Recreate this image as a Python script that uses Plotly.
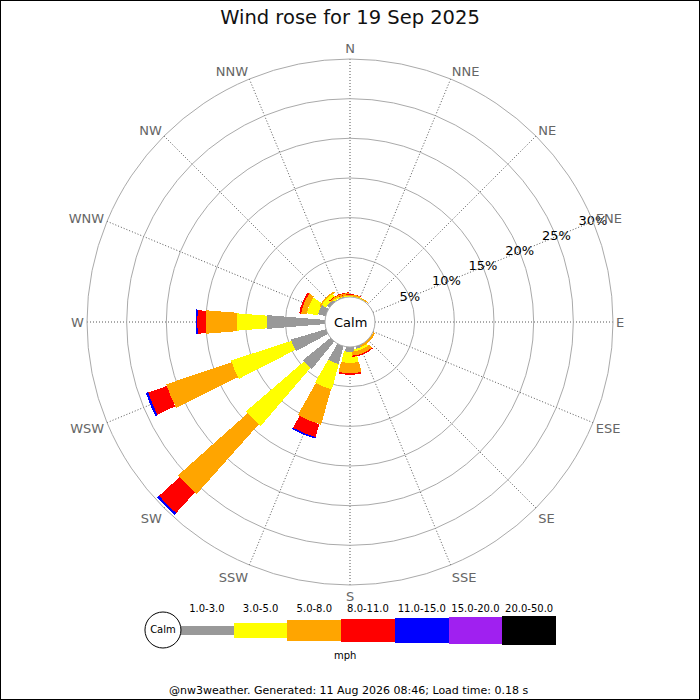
import math
import plotly.graph_objects as go

# ---------------- data ----------------
directions = ['N', 'NNE', 'NE', 'ENE', 'E', 'ESE', 'SE', 'SSE',
              'S', 'SSW', 'SW', 'WSW', 'W', 'WNW', 'NW', 'NNW']
speed_bins = ['1.0-3.0', '3.0-5.0', '5.0-8.0', '8.0-11.0',
              '11.0-15.0', '15.0-20.0', '20.0-50.0']
# percent of time, per direction, one list per speed bin
pct_1_3 = [0.05, 0.0, 0.0, 0.0, 0.0, 0.0, 0.0, 0.3, 0.6, 2.35, 4.5, 4.6, 7.3, 1.0, 0.4, 0.1]
pct_3_5 = [0.1, 0.1, 0.0, 0.0, 0.0, 0.0, 0.05, 0.3, 1.4, 3.3, 9.6, 8.0, 3.8, 1.4, 0.6, 0.2]
pct_5_8 = [0.15, 0.1, 0.0, 0.0, 0.0, 0.0, 0.25, 0.5, 1.3, 4.65, 11.8, 8.7, 3.95, 0.7, 0.2, 0.2]
pct_8_11 = [0.05, 0.0, 0.0, 0.0, 0.0, 0.0, 0.0, 0.15, 0.2, 1.7, 3.5, 2.5, 1.05, 0.25, 0.0, 0.1]
pct_11_15 = [0.0, 0.0, 0.0, 0.0, 0.0, 0.0, 0.0, 0.0, 0.0, 0.2, 0.3, 0.3, 0.2, 0.0, 0.0, 0.0]
pct_15_20 = [0.0] * 16
pct_20_50 = [0.0] * 16
series = [pct_1_3, pct_3_5, pct_5_8, pct_8_11, pct_11_15, pct_15_20, pct_20_50]
radial_ticks = [0, 5, 10, 15, 20, 25, 30]
radial_labels = ['', '5%', '10%', '15%', '20%', '25%', '30%']
title_text = 'Wind rose for 19 Sep 2025'
footer_text = '@nw3weather. Generated: 11 Aug 2026 08:46; Load time: 0.18 s'

# ---------------- styles ----------------
colors = ['#999999', '#ffff00', '#ffa500', '#ff0000', '#0000ff', '#a020f0', '#000000']
band_px = [9, 15, 21, 23, 25, 27, 29]   # visual thickness of each speed band
FONT = 'DejaVu Sans'
W = H = 700
RO_PX = 263          # outer radius of the rose in px
HOLE_PX = 25         # calm circle radius in px
CX, CY = 350, 322    # rose centre (px from left / top)
RMAX = radial_ticks[-1]
PX_PER_PCT = (RO_PX - HOLE_PX) / RMAX
LABEL_BEARING = 67.5  # radial labels run along the ENE spoke

theta = [i * 360 / len(directions) for i in range(len(directions))]

fig = go.Figure()

cum = [0.0] * len(directions)
for b, vals in enumerate(series):
    widths = []
    for d, v in enumerate(vals):
        mid = cum[d] + v / 2
        rmid = HOLE_PX + mid * PX_PER_PCT
        widths.append(2 * math.degrees(math.atan(band_px[b] / 2 / rmid)))
    fig.add_trace(go.Barpolar(
        r=vals, theta=theta, width=widths,
        marker=dict(color=colors[b], line=dict(width=0)),
        name=speed_bins[b], showlegend=False, hoverinfo='skip'))
    cum = [c + v for c, v in zip(cum, vals)]

# radial percentage labels, centred on the ring / spoke crossings
fig.add_trace(go.Scatterpolar(
    r=radial_ticks[1:], theta=[LABEL_BEARING] * (len(radial_ticks) - 1),
    mode='text', text=radial_labels[1:], textposition='middle center',
    textfont=dict(family=FONT, size=13, color='black'),
    showlegend=False, hoverinfo='skip', cliponaxis=False))

# ---------------- legend strip (cartesian subplot) ----------------
leg_x = list(range(len(speed_bins)))
fig.add_trace(go.Bar(
    x=leg_x, y=band_px, base=[-h / 2 for h in band_px], width=1,
    marker=dict(color=colors, line=dict(width=0)),
    xaxis='x', yaxis='y', showlegend=False, hoverinfo='skip'))
fig.add_trace(go.Scatter(
    x=[-0.817], y=[0], mode='markers+text', text=['Calm'],
    textposition='middle center', textfont=dict(family=FONT, size=10, color='black'),
    marker=dict(size=36, color='white', line=dict(color='black', width=1)),
    xaxis='x', yaxis='y', showlegend=False, hoverinfo='skip', cliponaxis=False))

px_per_unit = (556 - 180) / len(speed_bins)
x_lo, x_hi = -1.3, len(speed_bins) - 0.5
leg_left = 180 + (x_lo + 0.5) * px_per_unit
leg_right = 180 + (x_hi + 0.5) * px_per_unit

fig.update_layout(
    width=W, height=H,
    margin=dict(l=0, r=0, t=0, b=0),
    paper_bgcolor='white', plot_bgcolor='white',
    font=dict(family=FONT, color='black'),
    title=dict(text=title_text, x=0.5, xanchor='center', y=1 - 17 / H, yanchor='middle',
               yref='container', font=dict(family=FONT, size=19.5, color='#111111')),
    polar=dict(
        domain=dict(x=[(CX - RO_PX) / W, (CX + RO_PX) / W],
                    y=[(H - CY - RO_PX) / H, (H - CY + RO_PX) / H]),
        hole=HOLE_PX / RO_PX,
        bgcolor='white',
        barmode='stack',
        radialaxis=dict(range=[0, RMAX], tickvals=radial_ticks,
                        showticklabels=False, showline=False, ticks='',
                        gridcolor='#aaaaaa', gridwidth=1),
        angularaxis=dict(rotation=90, direction='clockwise', tickvals=theta,
                         ticktext=directions, ticks='', showline=True,
                         linecolor='#aaaaaa', gridcolor='#555555', griddash='1px,2px',
                         gridwidth=1,
                         tickfont=dict(family=FONT, size=13, color='#666666'))),
    xaxis=dict(domain=[leg_left / W, leg_right / W], range=[x_lo, x_hi], anchor='y',
               side='top', tickvals=leg_x, ticktext=speed_bins, ticks='',
               showgrid=False, zeroline=False, showline=False,
               tickfont=dict(family=FONT, size=10, color='black'), fixedrange=True),
    yaxis=dict(domain=[(H - 645) / H, (H - 615) / H], range=[-15, 15], anchor='x',
               visible=False, fixedrange=True),
    bargap=0,
    shapes=[dict(type='rect', xref='paper', yref='paper', x0=0, x1=1, y0=0, y1=1,
                 line=dict(color='black', width=2), fillcolor='rgba(0,0,0,0)', layer='above')],
    annotations=[
        dict(text='Calm', x=CX / W, y=1 - CY / H, xref='paper', yref='paper',
             showarrow=False, font=dict(family=FONT, size=13, color='black'),
             xanchor='center', yanchor='middle'),
        dict(text='mph', x=345 / W, y=1 - 655 / H, xref='paper', yref='paper',
             showarrow=False, font=dict(family=FONT, size=10, color='black'),
             xanchor='center', yanchor='middle'),
        dict(text=footer_text, x=348 / W, y=1 - 690 / H, xref='paper', yref='paper',
             showarrow=False, font=dict(family=FONT, size=11, color='black'),
             xanchor='center', yanchor='middle'),
    ],
)

fig.write_html('out.html', config={'displayModeBar': False},
               post_script="document.body.style.margin='0px';document.body.style.padding='0px';")
